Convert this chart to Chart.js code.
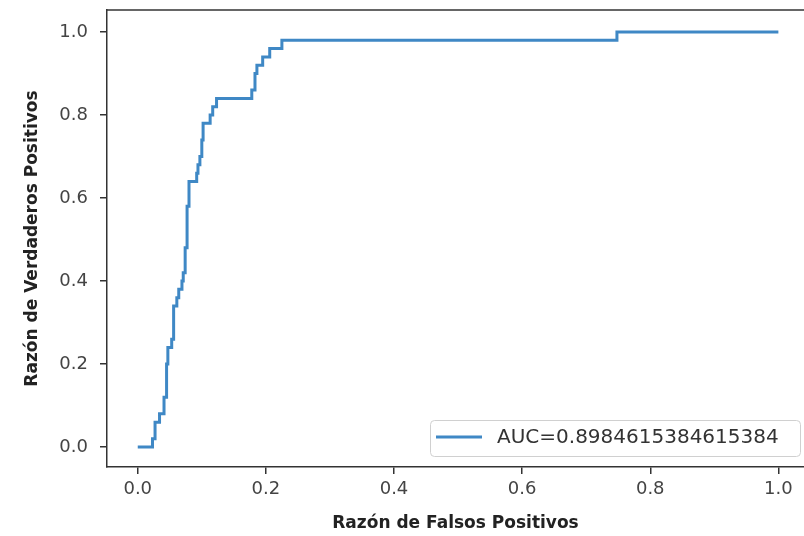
<!DOCTYPE html>
<html>
<head>
<meta charset="utf-8">
<script src="https://cdn.jsdelivr.net/npm/chart.js@4"></script>
<style>
  body { margin: 0; background: #fff; overflow: hidden; }
</style>
</head>
<body>
<canvas id="roc_chart" width="804" height="536"></canvas>
<script>
// roc curve corners
var fpr = [0, 0.023, 0.023, 0.027, 0.027, 0.034, 0.034, 0.041, 0.041, 0.045, 0.045, 0.047, 0.047, 0.053, 0.053,
    0.056, 0.056, 0.061, 0.061, 0.064, 0.064, 0.069, 0.069, 0.071, 0.071, 0.074, 0.074, 0.077, 0.077, 0.080, 0.080,
    0.092, 0.092, 0.094, 0.094, 0.097, 0.097, 0.100, 0.100, 0.102, 0.102, 0.113, 0.113, 0.117, 0.117, 0.123, 0.123,
    0.178, 0.178, 0.183, 0.183, 0.186, 0.186, 0.195, 0.195, 0.206, 0.206, 0.225, 0.225, 0.748, 0.748, 1.0];
var tpr = [0, 0, 0.02, 0.02, 0.06, 0.06, 0.08, 0.08, 0.12, 0.12, 0.20, 0.20, 0.24, 0.24, 0.26,
    0.26, 0.34, 0.34, 0.36, 0.36, 0.38, 0.38, 0.40, 0.40, 0.42, 0.42, 0.48, 0.48, 0.58, 0.58, 0.64,
    0.64, 0.66, 0.66, 0.68, 0.68, 0.70, 0.70, 0.74, 0.74, 0.78, 0.78, 0.80, 0.80, 0.82, 0.82, 0.84,
    0.84, 0.86, 0.86, 0.90, 0.90, 0.92, 0.92, 0.94, 0.94, 0.96, 0.96, 0.98, 0.98, 1.0, 1.0];
var auc_label = 'AUC=0.8984615384615384';
var tick_values = [0, 0.2, 0.4, 0.6, 0.8, 1.0];

var points = [];
for (let i = 0; i < fpr.length; i++) {
    points.push({x: fpr[i], y: tpr[i]});
}

var lineColor = '#3f88c5';
var spineColor = '#333333';

// top spine + legend box in the lower right
var framePlugin = {
    id: 'frame',
    afterDraw: function (chart) {
        let ctx = chart.ctx;
        let area = chart.chartArea;
        ctx.save();
        ctx.strokeStyle = spineColor;
        ctx.lineWidth = 1.5;
        ctx.beginPath();
        ctx.moveTo(area.left, area.top);
        ctx.lineTo(area.right, area.top);
        ctx.stroke();

        // legend
        let ds = chart.data.datasets[0];
        let bx = 430, by = 420, bw = 370, bh = 36;
        ctx.fillStyle = 'rgba(255,255,255,0.8)';
        ctx.strokeStyle = '#d0d0d0';
        ctx.lineWidth = 1;
        ctx.beginPath();
        ctx.roundRect(bx + 0.5, by + 0.5, bw, bh, 4);
        ctx.fill();
        ctx.stroke();
        ctx.strokeStyle = ds.borderColor;
        ctx.lineWidth = ds.borderWidth;
        ctx.beginPath();
        ctx.moveTo(436, by + 17);
        ctx.lineTo(482, by + 17);
        ctx.stroke();
        ctx.fillStyle = '#333';
        ctx.font = '20px "DejaVu Sans"';
        ctx.textBaseline = 'middle';
        ctx.fillText(ds.label, 497, by + 18);
        ctx.restore();
    }
};

var ctx = document.getElementById('roc_chart').getContext('2d');
var rocChart = new Chart(ctx, {
    type: 'line',
    data: {
        datasets: [{
            label: auc_label,
            data: points,
            borderColor: lineColor,
            backgroundColor: lineColor,
            borderWidth: 3,
            pointRadius: 0,
            tension: 0,
            fill: false
        }]
    },
    options: {
        responsive: false,
        animation: false,
        layout: {padding: {top: 10, right: 0, left: 0, bottom: 0}},
        plugins: {
            legend: {display: false},
            tooltip: {enabled: false}
        },
        scales: {
            x: {
                type: 'linear',
                min: -0.048,
                max: 1.04,
                afterBuildTicks: function (scale) {
                    scale.ticks = tick_values.map(function (v) { return {value: v}; });
                },
                afterFit: function (scale) {
                    scale.height = 69;
                    scale.paddingLeft = 0;
                    scale.paddingRight = 0;
                },
                ticks: {
                    color: '#444',
                    font: {family: 'DejaVu Sans', size: 18},
                    padding: 5,
                    maxRotation: 0,
                    callback: function (v) { return v.toFixed(1); }
                },
                grid: {drawOnChartArea: false, drawTicks: true, tickLength: 7, color: spineColor, lineWidth: 1.5},
                border: {display: true, color: spineColor, width: 1.5},
                title: {
                    display: true,
                    text: 'Razón de Falsos Positivos',
                    color: '#222',
                    font: {family: 'DejaVu Sans', size: 17, weight: 'bold'},
                    padding: {top: 0, bottom: 2}
                }
            },
            y: {
                type: 'linear',
                min: -0.048,
                max: 1.053,
                afterBuildTicks: function (scale) {
                    scale.ticks = tick_values.map(function (v) { return {value: v}; });
                },
                afterFit: function (scale) {
                    scale.width = 107;
                    scale.paddingTop = 0;
                    scale.paddingBottom = 0;
                },
                ticks: {
                    color: '#444',
                    font: {family: 'DejaVu Sans', size: 18},
                    padding: 12,
                    callback: function (v) { return v.toFixed(1); }
                },
                grid: {drawOnChartArea: false, drawTicks: true, tickLength: 7, color: spineColor, lineWidth: 1.5},
                border: {display: true, color: spineColor, width: 1.5},
                title: {
                    display: true,
                    text: 'Razón de Verdaderos Positivos',
                    color: '#222',
                    font: {family: 'DejaVu Sans', size: 17, weight: 'bold'},
                    padding: {top: 22, bottom: 0}
                }
            }
        }
    },
    plugins: [framePlugin]
});
</script>
</body>
</html>
